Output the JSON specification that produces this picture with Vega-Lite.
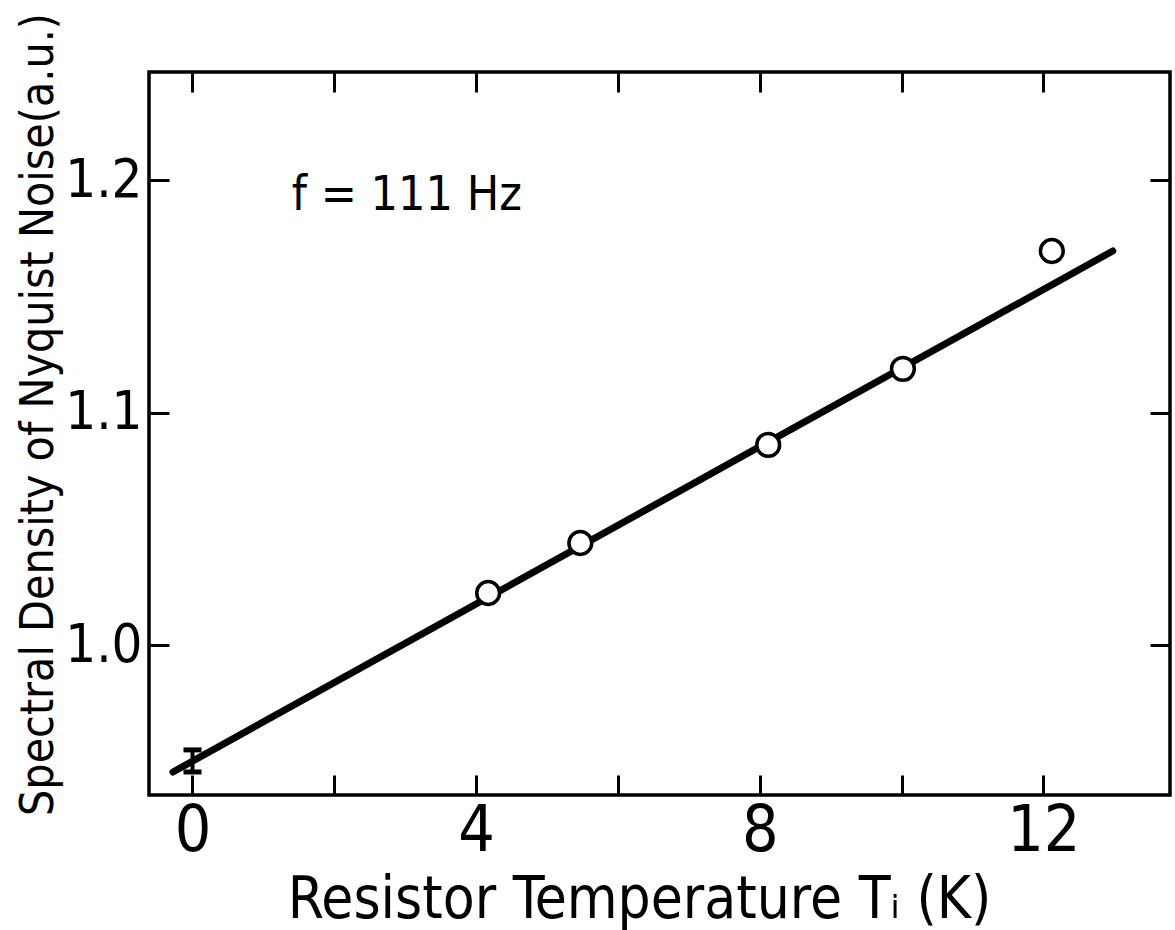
{
  "$schema": "https://vega.github.io/schema/vega-lite/v6.json",
  "width": 1021,
  "height": 723,
  "autosize": {"type": "none"},
  "padding": {"left": 149, "top": 72, "right": 5, "bottom": 135},
  "background": "white",
  "config": {
    "view": {"stroke": "black", "strokeWidth": 3.5},
    "axis": {
      "grid": false,
      "domain": false,
      "tickColor": "black",
      "tickWidth": 3,
      "tickSize": -20,
      "labelColor": "black",
      "titleColor": "black",
      "labelFont": "Liberation Sans Narrow, DejaVu Sans Condensed, Roboto",
      "titleFont": "Liberation Sans Narrow, DejaVu Sans Condensed, Roboto",
      "titleFontWeight": "normal"
    }
  },
  "layer": [
    {
      "data": {"values": [
        {"T": -0.275, "S": 0.9454},
        {"T": 12.98, "S": 1.1695}
      ]},
      "mark": {"type": "line", "color": "black", "strokeWidth": 7, "strokeCap": "round"},
      "encoding": {
        "x": {
          "field": "T", "type": "quantitative",
          "scale": {"domain": [-0.6135, 13.787], "nice": false, "zero": false},
          "axis": {
            "orient": "bottom",
            "values": [0, 2, 4, 6, 8, 10, 12],
            "labelExpr": "datum.value % 4 === 0 ? datum.label : ''",
            "labelFontSize": 64,
            "labelPadding": 24,
            "labelBaseline": "top",
            "title": "Resistor Temperature Tᵢ (K)",
            "titleFontSize": 58,
            "titleX": 490,
            "titleY": 122,
            "titleBaseline": "alphabetic",
            "titleAlign": "center"
          }
        },
        "y": {
          "field": "S", "type": "quantitative",
          "scale": {"domain": [0.9355, 1.2465], "nice": false, "zero": false},
          "axis": {
            "orient": "left",
            "values": [1.0, 1.1, 1.2],
            "format": ".1f",
            "labelFontSize": 54,
            "labelPadding": 27,
            "labelBaseline": "middle",
            "title": "Spectral Density of Nyquist Noise(a.u.)",
            "titleFontSize": 46,
            "titleAngle": 270,
            "titleX": -111,
            "titleY": 342,
            "titleAlign": "center",
            "titleBaseline": "middle"
          }
        }
      }
    },
    {
      "data": {"values": [
        {"T": 4.17, "S": 1.0224},
        {"T": 5.47, "S": 1.0439},
        {"T": 8.12, "S": 1.0861},
        {"T": 10.02, "S": 1.1188},
        {"T": 12.12, "S": 1.1695}
      ]},
      "mark": {"type": "point", "shape": "circle", "filled": false, "fill": "white", "fillOpacity": 1, "stroke": "black", "strokeWidth": 3.5, "size": 520, "opacity": 1},
      "encoding": {
        "x": {
          "field": "T", "type": "quantitative",
          "scale": {"domain": [-0.6135, 13.787], "nice": false, "zero": false},
          "axis": {"orient": "top", "values": [0, 2, 4, 6, 8, 10, 12], "labels": false, "title": null}
        },
        "y": {
          "field": "S", "type": "quantitative",
          "scale": {"domain": [0.9355, 1.2465], "nice": false, "zero": false},
          "axis": {"orient": "right", "values": [1.0, 1.1, 1.2], "labels": false, "title": null}
        }
      }
    },
    {
      "data": {"values": [
        {"T": 0, "lo": 0.9454, "hi": 0.9549}
      ]},
      "mark": {"type": "errorbar", "color": "black", "opacity": 1, "thickness": 4, "rule": {"color": "black", "opacity": 1}, "ticks": {"size": 18, "thickness": 5, "color": "black", "opacity": 1}},
      "encoding": {
        "x": {"field": "T", "type": "quantitative", "scale": {"domain": [-0.6135, 13.787], "nice": false, "zero": false}, "axis": null},
        "y": {"field": "lo", "type": "quantitative", "scale": {"domain": [0.9355, 1.2465], "nice": false, "zero": false}, "axis": null},
        "y2": {"field": "hi"}
      }
    },
    {
      "data": {"values": [
        {"T": 1.4, "S": 1.187, "label": "f = 111 Hz"}
      ]},
      "mark": {"type": "text", "align": "left", "baseline": "alphabetic", "fontSize": 48, "font": "Liberation Sans Narrow, DejaVu Sans Condensed, Roboto", "color": "black"},
      "encoding": {
        "x": {"field": "T", "type": "quantitative", "scale": {"domain": [-0.6135, 13.787], "nice": false, "zero": false}, "axis": null},
        "y": {"field": "S", "type": "quantitative", "scale": {"domain": [0.9355, 1.2465], "nice": false, "zero": false}, "axis": null},
        "text": {"field": "label"}
      }
    }
  ]
}
